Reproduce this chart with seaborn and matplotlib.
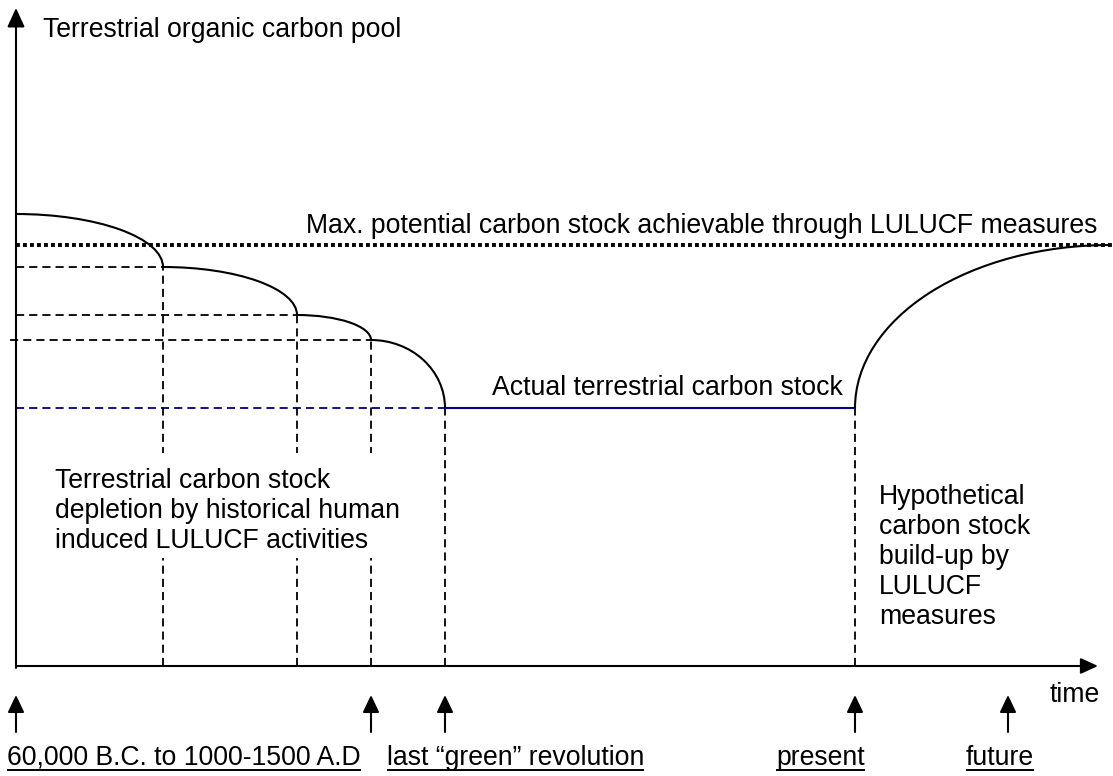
import matplotlib
matplotlib.use("Agg")
import matplotlib.pyplot as plt
import seaborn as sns
from matplotlib.patches import Arc, FancyArrowPatch, Rectangle

# conceptual values (time units along the axis, stock units above the axis)
event_times = [0, 147, 281, 355, 429]        # depletion steps
stock_levels = [452, 399, 351, 326, 258]     # pool level after each step
present_time = 839
future_time = 992
future_end = 1094
max_potential = 421
actual_stock = stock_levels[-1]

bottom_labels = ["60,000 B.C. to 1000-1500 A.D", "last \u201cgreen\u201d revolution", "present", "future"]
arrow_times = [0, 355, 429, present_time, future_time]

sns.set_theme(style="white")
plt.rcParams['font.family'] = ['Liberation Sans', 'DejaVu Sans']
plt.rcParams['text.color'] = 'black'
FS = 19.2

fig = plt.figure(figsize=(11.13, 7.76), dpi=100)
ax = fig.add_axes([0, 0, 1, 1])
ax.set_xlim(-16, 1097)
ax.set_ylim(-110, 666)
ax.axis('off')

def arrow(p0, p1, hl=10, hw=4.6, lw=1.5):
    ax.add_patch(FancyArrowPatch(p0, p1, arrowstyle=f'-|>,head_length={hl},head_width={hw}',
                                 mutation_scale=1, lw=lw, color='black',
                                 shrinkA=0, shrinkB=0, zorder=6))

# axes with arrow heads
arrow((0, -2), (0, 658), hl=11.5, hw=5.3)
arrow((0, 0), (1082, 0), hl=10.5, hw=4.8)

dash = (0, (4.5, 2.8))
dlw = 1.3

# horizontal guide lines back to the y axis
for lvl, t in zip(stock_levels[1:4], event_times[1:4]):
    x0 = -6 if lvl == stock_levels[3] else 0
    ax.plot([x0, t], [lvl, lvl], color='black', lw=dlw, linestyle=dash, zorder=2)
ax.plot([0, event_times[-1]], [actual_stock, actual_stock], color='#000080',
        lw=dlw, linestyle=dash, zorder=2)

# vertical guide lines down to the time axis
for t, lvl in zip(event_times[1:] + [present_time], stock_levels[1:] + [actual_stock]):
    ax.plot([t, t], [0, lvl], color='black', lw=dlw, linestyle=dash, zorder=2)

# max potential (dotted)
sns.lineplot(x=[0, 1097], y=[max_potential, max_potential], ax=ax, color='black',
             linewidth=2.8, linestyle=(0, (1, 0.8)), dash_capstyle='butt', zorder=3)

# actual terrestrial carbon stock
sns.lineplot(x=[event_times[-1], present_time], y=[actual_stock, actual_stock], ax=ax,
             color='#000080', linewidth=1.5, zorder=4)

# depletion steps as quarter ellipses
for i in range(len(event_times) - 1):
    t0, t1 = event_times[i], event_times[i + 1]
    s0, s1 = stock_levels[i], stock_levels[i + 1]
    ax.add_patch(Arc((t0, s1), 2 * (t1 - t0), 2 * (s0 - s1), theta1=0, theta2=90,
                     color='black', lw=1.5, zorder=4))

# hypothetical build-up
ax.add_patch(Arc((future_end, actual_stock), 2 * (future_end - present_time),
                 2 * (max_potential - actual_stock), theta1=90, theta2=180,
                 color='black', lw=1.5, zorder=4))

# texts
ax.text(27, 629, "Terrestrial organic carbon pool", fontsize=FS, va='baseline')
ax.text(1081, 433, "Max. potential carbon stock achievable through LULUCF measures",
        fontsize=FS, va='baseline', ha='right')
ax.text(476, 271, "Actual terrestrial carbon stock", fontsize=FS, va='baseline')
ax.text(1034, -36, "time", fontsize=FS, va='baseline')

ax.add_patch(Rectangle((29, 108), 345, 105, facecolor='white', edgecolor='none', zorder=5))
left_lines = ["Terrestrial carbon stock", "depletion by historical human", "induced LULUCF activities"]
for k, s in enumerate(left_lines):
    ax.text(39, 178 - 30 * k, s, fontsize=FS, va='baseline', zorder=6)

right_lines = ["Hypothetical", "carbon stock", "build-up by", "LULUCF", "measures"]
for k, s in enumerate(right_lines):
    ax.text(863, 162 - 30 * k, s, fontsize=FS, va='baseline', zorder=6)

# event arrows under the time axis
for t in arrow_times:
    arrow((t, -66), (t, -29), hl=10.5, hw=5)

label_x = [-9, 371, 760, 950]
fig.canvas.draw()
inv = ax.transData.inverted()
for x, s in zip(label_x, bottom_labels):
    txt = ax.text(x, -99, s, fontsize=FS, va='baseline')
    bb = txt.get_window_extent(renderer=fig.canvas.get_renderer())
    xa = inv.transform((bb.x0, bb.y0))[0]
    xb = inv.transform((bb.x1, bb.y0))[0]
    ax.plot([xa, xb], [-104, -104], color='black', lw=1.4, solid_capstyle='butt')

fig.savefig("out.png", dpi=100, facecolor='white')
